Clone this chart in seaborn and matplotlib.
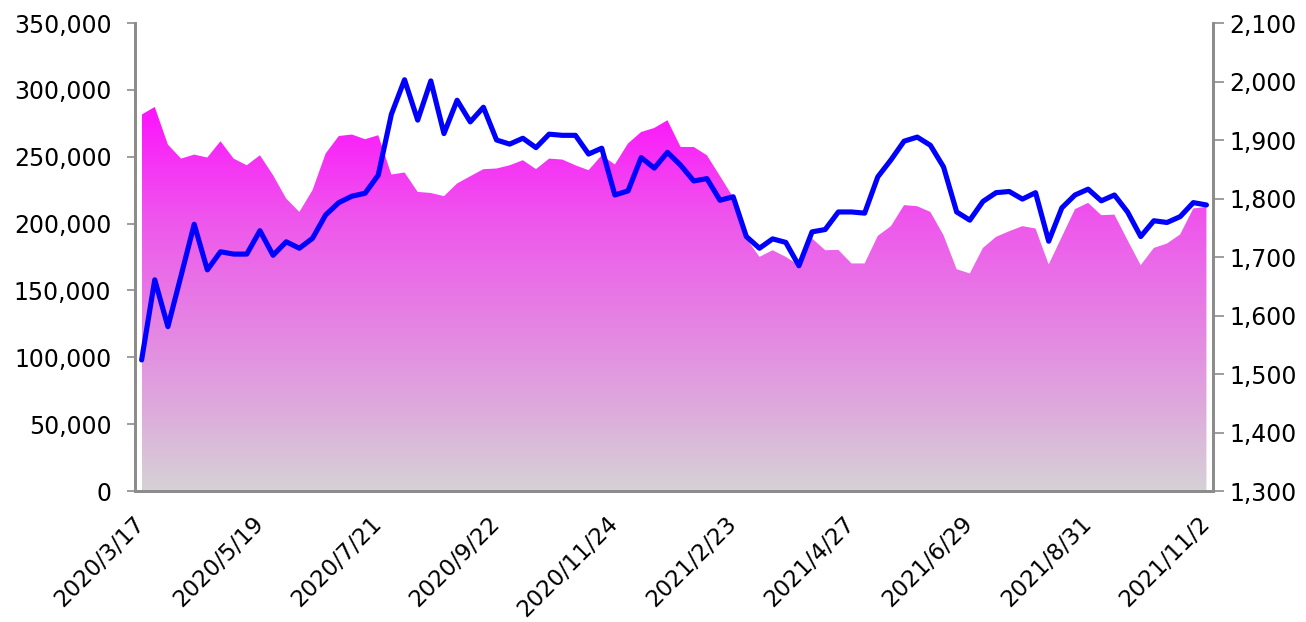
import numpy as np
import pandas as pd
import seaborn as sns
import matplotlib
matplotlib.use("Agg")
import matplotlib.pyplot as plt
from matplotlib.colors import LinearSegmentedColormap
from matplotlib.ticker import FuncFormatter, FixedLocator
from matplotlib.transforms import ScaledTranslation

# weekly values
area_vals = [281500, 287200, 259100, 248600, 251600, 249400, 261600, 248600, 243600, 251100,
             236200, 218700, 208700, 225000, 252400, 265500, 266600, 263100, 266100, 236700,
             238200, 223700, 222900, 220500, 230000, 235400, 240700, 241200, 243600, 247400,
             240700, 248600, 247900, 243600, 239900, 251100, 244200, 259900, 268500, 271500,
             277300, 257300, 257300, 251100, 235500, 219700, 189000, 175100, 180100, 175100,
             168900, 188900, 180100, 180300, 170200, 170200, 190800, 198100, 213800, 213000,
             208700, 191300, 165900, 162700, 181800, 190100, 194300, 198100, 196300, 169400,
             190100, 210800, 215500, 206300, 206700, 187600, 168900, 181800, 185100, 191900,
             211300, 212500]
line_vals = [1524, 1661, 1581, 1668, 1756, 1678, 1709, 1705, 1705, 1745,
             1703, 1726, 1715, 1732, 1772, 1793, 1804, 1809, 1840, 1944,
             2003, 1934, 2001, 1911, 1968, 1931, 1956, 1900, 1893, 1903,
             1887, 1910, 1908, 1908, 1876, 1886, 1806, 1813, 1870, 1852,
             1879, 1857, 1830, 1834, 1797, 1803, 1735, 1715, 1731, 1725,
             1685, 1743, 1747, 1777, 1777, 1775, 1837, 1866, 1898, 1905,
             1891, 1854, 1777, 1763, 1795, 1810, 1812, 1799, 1810, 1727,
             1784, 1806, 1816, 1796, 1806, 1777, 1735, 1762, 1759, 1769,
             1793, 1789]
tick_labels = ["2020/3/17", "2020/5/19", "2020/7/21", "2020/9/22", "2020/11/24",
               "2021/2/23", "2021/4/27", "2021/6/29", "2021/8/31", "2021/11/2"]
tick_step = 9

df = pd.DataFrame({"idx": np.arange(len(area_vals)), "area": area_vals, "line": line_vals})

sns.set_style("white")
plt.rcParams['font.family'] = ['DejaVu Sans']
plt.rcParams['text.color'] = 'black'
plt.rcParams['xtick.color'] = 'black'
plt.rcParams['ytick.color'] = 'black'

fig = plt.figure(figsize=(13.06, 6.22), dpi=100)
ax = fig.add_axes([0.1034, 0.2106, 0.8254, 0.7524])
ax2 = ax.twinx()

# gradient-filled area (left axis)
poly = ax.fill_between(df["idx"], 0, df["area"], color="none", lw=0)
top = 300000
grad = np.linspace(0, 1, 256).reshape(-1, 1)
cmap = LinearSegmentedColormap.from_list("pk", ["#d6d2d6", "#e292e0", "#ee58ec", "#ff08ff"])
img = ax.imshow(grad, cmap=cmap, origin="lower", aspect="auto",
                extent=[0, len(area_vals) - 1, 0, top], zorder=1)
img.set_clip_path(poly.get_paths()[0], transform=ax.transData)

# line (right axis)
sns.lineplot(data=df, x="idx", y="line", ax=ax2, color="#0000ff", lw=3.7, legend=False)

ax.set_xlim(-0.5, len(area_vals) - 0.5)
ax.set_ylim(0, 350000)
ax2.set_ylim(1300, 2100)
ax.set_yticks(np.arange(0, 350001, 50000))
ax2.set_yticks(np.arange(1300, 2101, 100))
ax.yaxis.set_major_formatter(FuncFormatter(lambda v, p: f"{int(v):,}"))
ax2.yaxis.set_major_formatter(FuncFormatter(lambda v, p: f"{int(v):,}"))

ax.set_xticks(np.arange(0, len(area_vals), tick_step))
ax.set_xticklabels(tick_labels, rotation=45, ha="right", va="center", rotation_mode="anchor")
shift = ScaledTranslation(-6 / 72, 0, fig.dpi_scale_trans)
for lab in ax.get_xticklabels():
    lab.set_transform(lab.get_transform() + shift)
ax.xaxis.set_minor_locator(FixedLocator(np.arange(-0.5, len(area_vals), 1)))
ax.tick_params(axis="x", which="major", length=0, pad=21, labelsize=16.5, labelcolor="black")
ax.tick_params(axis="x", which="minor", length=5, width=1.2, color="#8c8c8c", direction="out")
ax.tick_params(axis="y", length=6, width=1.2, color="#8c8c8c", pad=11, labelsize=17, labelcolor="black")
ax2.tick_params(axis="y", length=8, width=1.2, color="#8c8c8c", pad=4, labelsize=17, labelcolor="black")
ax.set_xlabel("")
ax.set_ylabel("")
ax2.set_xlabel("")
ax2.set_ylabel("")

for a in (ax, ax2):
    a.spines["top"].set_visible(False)
    for s in ("left", "right", "bottom"):
        a.spines[s].set_color("#8c8c8c")
        a.spines[s].set_linewidth(2)

fig.savefig("out.png", dpi=100)
